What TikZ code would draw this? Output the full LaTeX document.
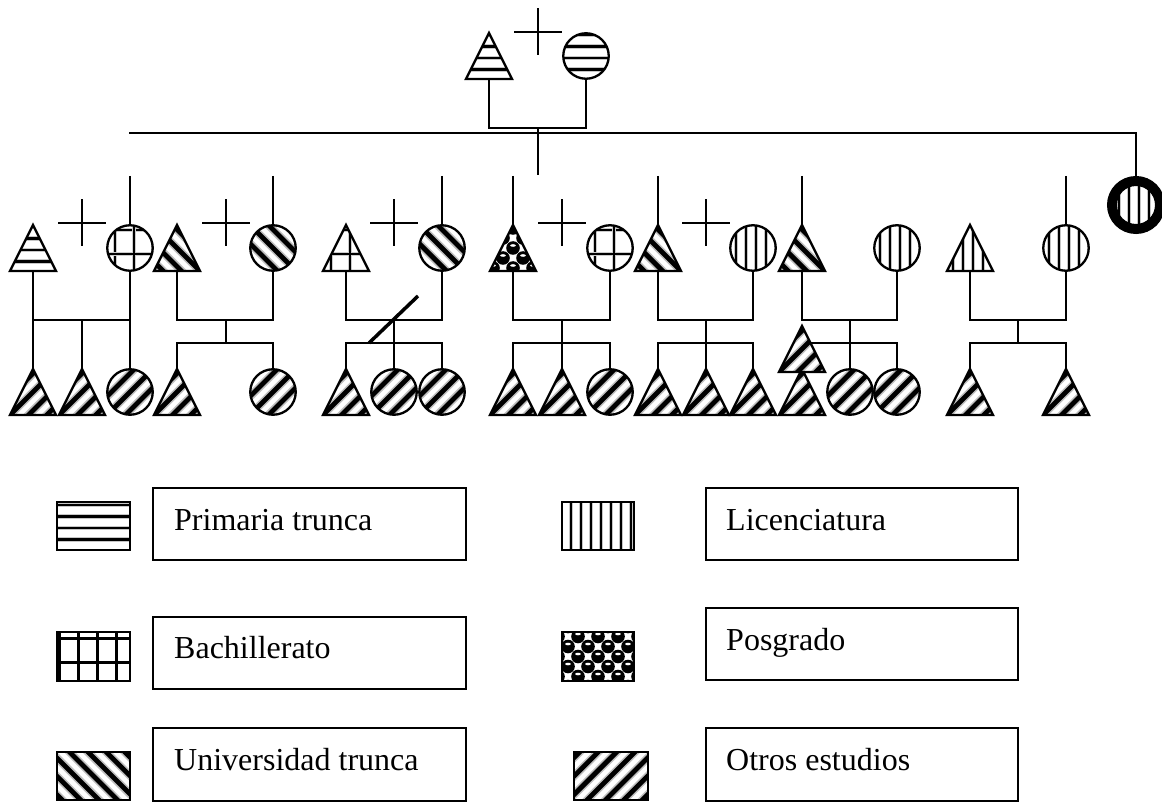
\documentclass[tikz,border=0pt]{standalone}
\usepackage{fontspec}
\setmainfont{Liberation Serif}
\tikzset{
  tribox/.style={rectangle,draw=none,minimum width=46pt,minimum height=46pt,inner sep=0pt,outer sep=0pt},
  circbox/.style={circle,draw=none,fill=white,minimum size=45.5pt,inner sep=0pt,outer sep=1pt},
  shapeline/.style={line width=2.3pt,line join=miter},
  conn/.style={line width=2pt},
  crossline/.style={line width=1.5pt},
  legbox/.style={rectangle,draw,line width=2pt,inner sep=0pt},
  swbox/.style={rectangle,draw=none,inner sep=0pt,outer sep=0pt},
  legtext/.style={anchor=base west,inner sep=0pt,font=\fontsize{32}{38}\selectfont}
}
% patterns (local coordinates around a centre)
\newcommand\patH{\foreach \k in {-4,...,4}{\draw[line width=4.5pt,gray!45] (-45,\k*11.5+2) -- (45,\k*11.5+2);\draw[line width=2.6pt] (-45,\k*11.5+2) -- (45,\k*11.5+2);}}
\newcommand\patV{\foreach \k in {-5,...,5}{\draw[line width=4.5pt,gray!45] (\k*10+3,-45) -- (\k*10+3,45);\draw[line width=2.4pt] (\k*10+3,-45) -- (\k*10+3,45);}}
\newcommand\patG{\foreach \k in {-3,...,3}{\draw[line width=3.6pt,gray!40] (\k*19+4,-45) -- (\k*19+4,45);\draw[line width=3.6pt,gray!40] (-45,\k*24+6) -- (45,\k*24+6);\draw[line width=2.2pt] (\k*19+4,-45) -- (\k*19+4,45);\draw[line width=2.2pt] (-45,\k*24+6) -- (45,\k*24+6);}}
\newcommand\patD{\foreach \k in {-6,...,6}{\draw[line width=8pt,gray!50] (\k*18.4-55,-55) -- (\k*18.4+55,55);\draw[line width=4.8pt] (\k*18.4-55,-55) -- (\k*18.4+55,55);}}
\newcommand\patO{\foreach \k in {-6,...,6}{\draw[line width=8pt,gray!50] (\k*18.4-55,55) -- (\k*18.4+55,-55);\draw[line width=4.8pt] (\k*18.4-55,55) -- (\k*18.4+55,-55);}}
\newcommand\patP{\foreach \i in {-3,...,3}{\foreach \j in {-3,...,3}{\fill (\i*20,\j*20) circle (6.8pt);\fill (\i*20+10,\j*20+10) circle (6.8pt);\fill[white] (\i*20,\j*20-2.5) ellipse (2.8pt and 1.3pt);\fill[white] (\i*20+10,\j*20+7.5) ellipse (2.8pt and 1.3pt);}}}
% shapes
\newcommand\trinode[4]{%
  \node[tribox] (#1) at (#2,#3) {};
  \begin{scope}
    \clip (#1.south west) -- (#1.north) -- (#1.south east) -- cycle;
    \fill[white] (#1.south west) rectangle (#1.north east);
    \begin{scope}[shift={(#1.center)}]\csname pat#4\endcsname\end{scope}
  \end{scope}
  \draw[shapeline] (#1.south west) -- (#1.north) -- (#1.south east) -- cycle;}
\newcommand\circnode[4]{%
  \node[circbox] (#1) at (#2,#3) {};
  \begin{scope}
    \clip (#1.center) circle (22.75pt);
    \begin{scope}[shift={(#1.center)}]\csname pat#4\endcsname\end{scope}
  \end{scope}
  \draw[shapeline] (#1.center) circle (22.75pt);}
\newcommand\crossat[3]{%
  \coordinate (#1) at (#2,#3);
  \draw[crossline] ([xshift=-24pt]#1) -- ([xshift=24pt]#1);
  \draw[crossline] ([yshift=23.5pt]#1) -- ([yshift=-23.5pt]#1);}
\newcommand\swatch[6]{%
  \node[swbox,minimum width=#5pt,minimum height=#6pt] (#1) at (#2,#3) {};
  \begin{scope}
    \clip (#1.south west) rectangle (#1.north east);
    \fill[white] (#1.south west) rectangle (#1.north east);
    \begin{scope}[shift={(#1.center)}]\csname pat#4\endcsname\end{scope}
  \end{scope}
  \draw[shapeline] (#1.south west) rectangle (#1.north east);}
\begin{document}
\begin{tikzpicture}[x=1pt,y=-1pt]
\useasboundingbox (0,0) rectangle (1162,802);
\fill[white] (0,0) rectangle (1162,802);

% ---- first generation
\trinode{T1}{489}{56}{H}
\circnode{T2}{586}{56}{H}
\crossat{X0}{538}{32}
\coordinate (T0) at (538,128);
\coordinate (T0d) at (538,175);
\draw[conn] (T1.south) |- (T0) -| (T2.south);
\draw[conn] (T0) -- (T0d);

% ---- right single circle and long sibship line
\node[circle,minimum size=48pt,inner sep=0pt,outer sep=5pt,fill=white] (RC) at (1136,205) {};
\begin{scope}
  \clip (RC.center) circle (24pt);
  \begin{scope}[shift={(RC.center)}]\patV\end{scope}
\end{scope}
\draw[line width=10pt] (RC.center) circle (24pt);
\coordinate (L0) at (129,133);
\draw[conn] (L0) -| (RC.north);

% ---- second generation couples
\trinode{A1}{33}{248}{H}   \circnode{A2}{130}{248}{G}  \crossat{XA}{82}{223}
\trinode{B1}{177}{248}{D}  \circnode{B2}{273}{248}{D}  \crossat{XB}{226}{223}
\trinode{C1}{346}{248}{G}  \circnode{C2}{442}{248}{D}  \crossat{XC}{394}{223}
\trinode{D1}{513}{248}{P}  \circnode{D2}{610}{248}{G}  \crossat{XD}{562}{223}
\trinode{E1}{658}{248}{D}  \circnode{E2}{753}{248}{V}  \crossat{XE}{706}{223}
\trinode{F1}{802}{248}{D}  \circnode{F2}{897}{248}{V}
\trinode{G1}{970}{248}{V}  \circnode{G2}{1066}{248}{V}

% hanging lines
\coordinate (hA) at (130,176);  \draw[conn] (hA) -- (A2.north);
\coordinate (hB) at (273,176);  \draw[conn] (hB) -- (B2.north);
\coordinate (hC) at (442,176);  \draw[conn] (hC) -- (C2.north);
\coordinate (hD) at (513,176);  \draw[conn] (hD) -- (D1.north);
\coordinate (hE) at (658,176);  \draw[conn] (hE) -- (E1.north);
\coordinate (hF) at (802,176);  \draw[conn] (hF) -- (F1.north);
\coordinate (hG) at (1066,176); \draw[conn] (hG) -- (G2.north);

% ---- third generation
\trinode{Ak1}{33}{392}{O}  \trinode{Ak2}{82}{392}{O}  \circnode{Ak3}{130}{392}{O}
\trinode{Bk1}{177}{392}{O} \circnode{Bk2}{273}{392}{O}
\trinode{Ck1}{346}{392}{O} \circnode{Ck2}{394}{392}{O} \circnode{Ck3}{442}{392}{O}
\trinode{Dk1}{513}{392}{O} \trinode{Dk2}{562}{392}{O} \circnode{Dk3}{610}{392}{O}
\trinode{Ek1}{658}{392}{O} \trinode{Ek2}{706}{392}{O} \trinode{Ek3}{753}{392}{O}
\trinode{Xk}{802}{392}{O}
\circnode{Fk2}{850}{392}{O} \circnode{Fk3}{897}{392}{O}
\trinode{Gk1}{970}{392}{O} \trinode{Gk2}{1066}{392}{O}

% couple A
\coordinate (A0) at (82,320);
\draw[conn] (A1.south) |- (A0) -| (A2.south);
\draw[conn] (Ak1.north |- A0) -- (Ak1.north);
\draw[conn] (A0) -- (Ak2.north);
\draw[conn] (Ak3.north |- A0) -- (Ak3.north);
% couple B
\coordinate (B0) at (226,320); \coordinate (B0s) at (226,343);
\draw[conn] (B1.south) |- (B0) -| (B2.south);
\draw[conn] (B0) -- (B0s);
\draw[conn] (Bk1.north) |- (B0s) -| (Bk2.north);
% couple C
\coordinate (C0) at (394,320); \coordinate (C0s) at (394,343);
\draw[conn] (C1.south) |- (C0) -| (C2.south);
\draw[conn] (C0) -- (C0s);
\draw[conn] (Ck1.north) |- (C0s) -| (Ck3.north);
\draw[conn] (C0s) -- (Ck2.north);
\coordinate (s1) at (369,343); \coordinate (s2) at (418,296);
\draw[line width=3.5pt] (s1) -- (s2);
% couple D
\coordinate (D0) at (562,320); \coordinate (D0s) at (562,343);
\draw[conn] (D1.south) |- (D0) -| (D2.south);
\draw[conn] (D0) -- (D0s);
\draw[conn] (Dk1.north) |- (D0s) -| (Dk3.north);
\draw[conn] (D0s) -- (Dk2.north);
% couple E
\coordinate (E0) at (706,320); \coordinate (E0s) at (706,343);
\draw[conn] (E1.south) |- (E0) -| (E2.south);
\draw[conn] (E0) -- (E0s);
\draw[conn] (Ek1.north) |- (E0s) -| (Ek3.north);
\draw[conn] (E0s) -- (Ek2.north);
% couple F
\coordinate (F0) at (850,320); \coordinate (F0s) at (850,343); \coordinate (F0l) at (802,343);
\draw[conn] (F1.south) |- (F0) -| (F2.south);
\draw[conn] (F0) -- (Fk2.north);
\draw[conn] (F0l) -| (Fk3.north);
\trinode{Fk1}{802}{349}{O}
% couple G
\coordinate (G0) at (1018,320); \coordinate (G0s) at (1018,343);
\draw[conn] (G1.south) |- (G0) -| (G2.south);
\draw[conn] (G0) -- (G0s);
\draw[conn] (Gk1.north) |- (G0s) -| (Gk2.north);

% ---- legend
\swatch{S1}{93.5}{526}{H}{73}{48}
\swatch{S2}{93.5}{656.5}{G}{73}{49}
\swatch{S3}{93.5}{776}{D}{73}{48}
\swatch{S4}{598}{526}{V}{72}{48}
\swatch{S5}{598}{656.5}{P}{72}{49}
\swatch{S6}{611}{776}{O}{74}{48}

\node[legbox,minimum width=313pt,minimum height=72pt] (B1box) at (309.5,524) {};
\node[legbox,minimum width=313pt,minimum height=72pt] (B2box) at (309.5,653) {};
\node[legbox,minimum width=313pt,minimum height=73pt] (B3box) at (309.5,764.5) {};
\node[legbox,minimum width=312pt,minimum height=72pt] (B4box) at (862,524) {};
\node[legbox,minimum width=312pt,minimum height=72pt] (B5box) at (862,644) {};
\node[legbox,minimum width=312pt,minimum height=73pt] (B6box) at (862,764.5) {};

\node[legtext] (L1) at (174,530) {Primaria trunca};
\node[legtext] (L2) at (174,658) {Bachillerato};
\node[legtext] (L3) at (174,770) {Universidad trunca};
\node[legtext] (L4) at (726,530) {Licenciatura};
\node[legtext] (L5) at (726,650) {Posgrado};
\node[legtext] (L6) at (726,770) {Otros estudios};
\end{tikzpicture}
\end{document}
